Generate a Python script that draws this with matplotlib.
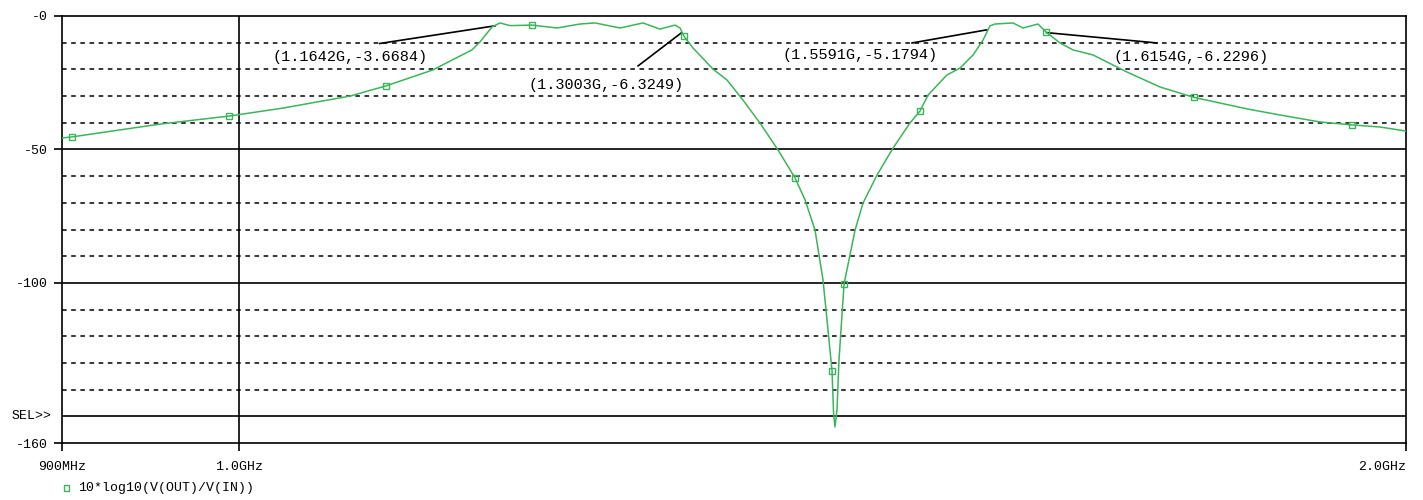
import matplotlib
matplotlib.use("Agg")
import matplotlib.pyplot as plt
import matplotlib.transforms as mtransforms

# ---- data (frequency in GHz, response in dB) ----
freq_ghz = [0.9000, 0.9054, 0.9540, 0.9939, 1.0263, 1.0680, 1.0910, 1.1219,
            1.1482, 1.1537, 1.1620, 1.1675, 1.1745, 1.1899, 1.2077, 1.2243,
            1.2353, 1.2538, 1.2710, 1.2839, 1.2954, 1.2993, 1.3024, 1.3094,
            1.3250, 1.3361, 1.3488, 1.3625, 1.3772, 1.3912, 1.3995, 1.4078,
            1.4145, 1.4187, 1.4221, 1.4234, 1.4246, 1.4263, 1.4280, 1.4323,
            1.4417, 1.4485, 1.4606, 1.4746, 1.4895, 1.4984, 1.5056, 1.5226,
            1.5345, 1.5464, 1.5556, 1.5620, 1.5667, 1.5835, 1.5930, 1.6072,
            1.6149, 1.6284, 1.6410, 1.6606, 1.6945, 1.7281, 1.7633, 1.8197,
            1.8558, 1.9004, 1.9369, 1.9694, 2.0000]
gain_db = [-45.7, -45.3, -40.5, -37.5, -34.5, -30.0, -26.2, -20.2,
           -12.7, -9.7, -4.1, -2.6, -3.6, -3.4, -4.5, -3.0,
           -2.6, -4.5, -2.6, -4.9, -3.4, -4.5, -7.6, -12.0,
           -19.9, -24.0, -31.5, -40.1, -50.2, -60.7, -68.9, -80.2,
           -98.9, -117.6, -133.0, -148.7, -154.0, -147.6, -128.9, -100.4,
           -80.2, -70.1, -59.6, -49.5, -40.1, -35.6, -29.6, -22.1,
           -19.5, -14.6, -9.0, -3.7, -3.0, -2.6, -4.5, -3.0,
           -6.0, -10.1, -12.7, -14.6, -21.0, -26.6, -30.5, -34.8,
           -37.1, -39.7, -40.8, -41.6, -43.1]
marker_idx = [1, 3, 6, 13, 22, 29, 34, 39, 45, 56, 62, 66]

trace_label = "10*log10(V(OUT)/V(IN))"

# cursor annotations
cursor_labels = ["(1.1642G,-3.6684)", "(1.3003G,-6.3249)",
                 "(1.5591G,-5.1794)", "(1.6154G,-6.2296)"]
cursor_freq = [1.1642, 1.3003, 1.5591, 1.6154]
cursor_db = [-3.6684, -6.3249, -5.1794, -6.2296]
line_start_freq = [1.087, 1.2673, 1.4913, 1.725]
line_start_db = [-10.3, -18.7, -10.1, -10.1]
text_freq = [1.068, 1.2434, 1.446, 1.760]
text_db = [-15.4, -25.9, -14.6, -15.4]

xtick_vals = [0.9, 1.0, 2.0]
xtick_labels = ["900MHz", "1.0GHz", "2.0GHz"]
ytick_vals = [0, -50, -100, -160]
ytick_labels = ["-0", "-50", "-100", "-160"]

GREEN = "#3cb55a"
MONO = ["Liberation Mono", "DejaVu Sans Mono"]

fig = plt.figure(figsize=(14.23, 5.00), dpi=100)
ax = fig.add_axes([62 / 1423, 57 / 500, 1344 / 1423, 427 / 500])

ax.set_xscale("log")
ax.set_xlim(0.9, 2.0)
ax.set_ylim(-160, 0)

# grid lines
for v in range(-150, 0, 10):
    if v % 50 == 0:
        ax.axhline(v, color="black", lw=1.2, zorder=1)
    else:
        ax.axhline(v, color="black", lw=1.1, ls=(0, (3, 3)), zorder=1)
ax.axvline(1.0, color="black", lw=1.2, zorder=1)

ax.plot(freq_ghz, gain_db, color=GREEN, lw=1.1, marker="s", markersize=5,
        markerfacecolor="none", markeredgecolor=GREEN, markeredgewidth=1.0,
        markevery=marker_idx, zorder=3)

for lab, fx, fy, tx, ty, sx, sy in zip(cursor_labels, cursor_freq, cursor_db,
                                       text_freq, text_db, line_start_freq, line_start_db):
    ax.plot([sx, fx], [sy, fy], color="black", lw=1.2, zorder=2)
    ax.text(tx, ty, lab, family=MONO, fontsize=11, ha="center", va="center", color="black")

ax.set_xticks(xtick_vals)
ax.set_xticklabels(xtick_labels, family=MONO, fontsize=9.5)
ax.xaxis.set_minor_locator(matplotlib.ticker.NullLocator())
ax.set_yticks(ytick_vals)
ax.set_yticklabels(ytick_labels, family=MONO, fontsize=9.5)
xl = ax.get_xticklabels()
xl[-1].set_horizontalalignment("right")
ax.tick_params(axis="both", length=6, width=1.2, color="black", pad=4)
ax.tick_params(axis="x", pad=7)

for s in ax.spines.values():
    s.set_color("black")
    s.set_linewidth(1.2)

# SEL>> marker label
trans = mtransforms.blended_transform_factory(ax.transAxes, ax.transData)
ax.text(-10 / 1344, -150, "SEL>>", transform=trans, family=MONO, fontsize=9.5,
        ha="right", va="center")

# legend
fig.patches.append(matplotlib.patches.Rectangle((64 / 1423, 1 - 491 / 500), 5 / 1423, 6 / 500,
                                                transform=fig.transFigure, fill=False,
                                                edgecolor=GREEN, lw=1.0))
fig.text(78 / 1423, 1 - 488 / 500, trace_label, family=MONO, fontsize=9.5,
         ha="left", va="center")

fig.savefig("out.png", dpi=100)
